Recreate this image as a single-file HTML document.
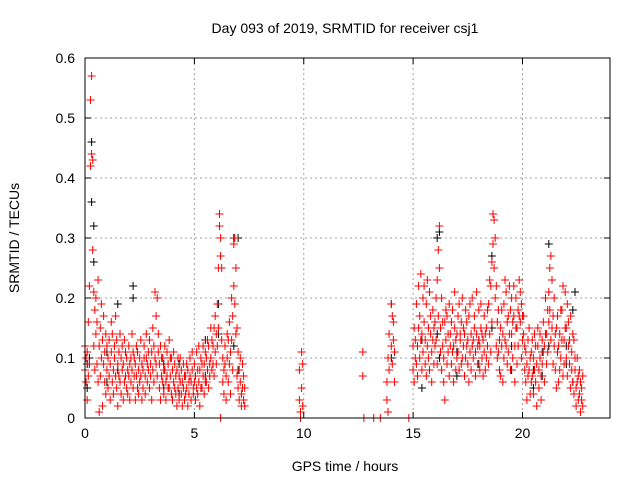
<!DOCTYPE html>
<html><head><meta charset="utf-8"><style>
body{margin:0;background:#fff;}
svg{display:block;font-family:"Liberation Sans",sans-serif;}
</style></head><body>
<svg id="chart" width="640" height="480" viewBox="0 0 640 480">
<rect width="640" height="480" fill="#fff"/>
<g id="grid"></g>
<g id="ticks"></g>
<g id="blackPts"></g>
<g id="redPts"></g>
<rect x="85" y="58" width="525" height="360" fill="none" stroke="#000" stroke-width="1"/>
<text x="345" y="33" text-anchor="middle" font-size="14">Day 093 of 2019, SRMTID for receiver csj1</text>
<text x="345" y="471" text-anchor="middle" font-size="14">GPS time / hours</text>
<text transform="translate(19,238) rotate(-90)" text-anchor="middle" font-size="14">SRMTID / TECUs</text>
</svg>
<script>
const xTicks=[0,5,10,15,20];
const yTicks=[0,0.1,0.2,0.3,0.4,0.5,0.6];
const yTickLabels=["0","0.1","0.2","0.3","0.4","0.5","0.6"];
// samples: [time_hours, value1*100, value2*100]
const redSamples=[
[0,8,12],[0.05,6,10],[0.1,11,3],[0.15,16,7],[0.2,22,9],[0.25,53,42],[0.3,57,44],[0.35,43,28],[0.4,21,12],[0.45,18,8],[0.5,14,20],[0.55,9,16],[0.6,23,6],[0.65,12,1],[0.7,7,15],[0.75,10,19],[0.8,2,13],[0.85,9,17],[0.9,6,11],[0.95,14,4],
[1,8,12],[1.05,10,5],[1.1,13,7],[1.15,3,9],[1.2,11,16],[1.25,6,14],[1.3,8,4],[1.35,12,10],[1.4,17,7],[1.45,5,13],[1.5,9,2],[1.55,11,7],[1.6,6,14],[1.65,10,4],[1.7,8,12],[1.75,3,9],[1.8,13,6],[1.85,7,11],[1.9,10,5],[1.95,4,8],
[2,12,7],[2.05,9,3],[2.1,6,10],[2.15,8,14],[2.2,5,11],[2.25,10,7],[2.3,3,9],[2.35,7,12],[2.4,11,5],[2.45,8,4],[2.5,6,10],[2.55,13,7],[2.6,9,3],[2.65,5,8],[2.7,12,10],[2.75,7,4],[2.8,10,14],[2.85,6,9],[2.9,8,11],[2.95,13,5],
[3,9,7],[3.05,11,3],[3.1,15,8],[3.15,12,6],[3.2,21,10],[3.25,17,9],[3.3,20,7],[3.35,14,11],[3.4,9,5],[3.45,12,3],[3.5,7,10],[3.55,10,6],[3.6,4,8],[3.65,8,12],[3.7,6,3],[3.75,11,7],[3.8,9,5],[3.85,5,13],[3.9,7,10],[3.95,10,4],
[4,3,8],[4.05,6,11],[4.1,9,5],[4.15,4,7],[4.2,8,2],[4.25,5,10],[4.3,7,3],[4.35,10,6],[4.4,4,8],[4.45,6,2],[4.5,9,5],[4.55,3,7],[4.6,7,4],[4.65,5,9],[4.7,8,2],[4.75,4,6],[4.8,10,7],[4.85,6,3],[4.9,8,11],[4.95,5,4],
[5,9,6],[5.05,7,3],[5.1,11,5],[5.15,4,8],[5.2,6,12],[5.25,8,2],[5.3,10,5],[5.35,5,9],[5.4,7,12],[5.45,9,4],[5.5,11,6],[5.55,6,10],[5.6,8,13],[5.65,12,5],[5.7,7,9],[5.75,10,15],[5.8,13,8],[5.85,9,12],[5.9,15,7],[5.95,11,17],
[6,14,9],[6.05,19,12],[6.1,25,15],[6.15,32,34],[6.2,30,27],[6.25,25,13],[6.3,10,6],[6.35,8,4],[6.4,12,9],[6.45,7,3],[6.5,10,14],[6.55,13,6],[6.6,16,9],[6.65,11,4],[6.7,20,13],[6.75,17,8],[6.8,29,22],[6.85,30,19],[6.9,25,14],[6.95,15,7],
[7,11,5],[7.05,8,3],[7.1,6,10],[7.15,4,2],[7.2,9,5],[7.25,3,7],[7.3,5,2],[6.2,0,0],
[9.8,8,3],[9.85,0,1],[9.9,11,5],[9.95,9,2],[12.7,11,7],[12.75,0,0],[13.2,0,0],[13.5,0,0],[13.8,6,3],[13.85,10,1],[13.9,8,14],[14,19,12],[14.05,17,9],[14.1,13,16],[14.15,11,6],[14.8,0,0],
[15,8,12],[15.05,15,6],[15.1,10,13],[15.15,19,9],[15.2,12,7],[15.25,22,15],[15.3,17,10],[15.35,24,13],[15.4,14,8],[15.45,20,11],[15.5,16,22],[15.55,9,13],[15.6,19,7],[15.65,12,23],[15.7,15,10],[15.75,21,8],[15.8,14,17],[15.85,11,6],[15.9,18,13],[15.95,9,15],
[16,16,12],[16.05,13,20],[16.1,23,9],[16.15,28,17],[16.2,32,25],[16.25,15,11],[16.3,20,8],[16.35,12,16],[16.4,10,6],[16.45,16,3],[16.5,13,18],[16.55,17,9],[16.6,11,14],[16.65,19,7],[16.7,14,12],[16.75,9,16],[16.8,18,11],[16.85,12,6],[16.9,15,21],[16.95,8,13],
[17,14,10],[17.05,11,17],[17.1,19,8],[17.15,13,14],[17.2,16,9],[17.25,10,20],[17.3,15,12],[17.35,7,14],[17.4,18,10],[17.45,12,16],[17.5,9,13],[17.55,17,6],[17.6,11,19],[17.65,14,8],[17.7,20,12],[17.75,13,10],[17.8,17,15],[17.85,11,7],[17.9,14,21],[17.95,9,12],
[18,18,13],[18.05,12,8],[18.1,15,19],[18.15,10,14],[18.2,13,7],[18.25,17,11],[18.3,8,14],[18.35,15,10],[18.4,12,18],[18.45,19,9],[18.5,14,23],[18.55,22,11],[18.6,26,16],[18.65,34,29],[18.7,33,25],[18.75,30,20],[18.8,22,12],[18.85,16,10],[18.9,11,18],[18.95,8,13],
[19,15,7],[19.05,12,18],[19.1,6,14],[19.15,19,10],[19.2,13,23],[19.25,21,12],[19.3,16,9],[19.35,11,17],[19.4,22,14],[19.45,18,8],[19.5,14,20],[19.55,10,16],[19.6,17,22],[19.65,12,6],[19.7,20,15],[19.75,15,9],[19.8,18,12],[19.85,23,17],[19.9,16,21],[19.95,19,10],
[20,13,17],[20.05,17,14],[20.1,12,8],[20.15,6,11],[20.2,9,3],[20.25,13,7],[20.3,8,15],[20.35,4,10],[20.4,11,6],[20.45,7,13],[20.5,10,4],[20.55,14,8],[20.6,6,12],[20.65,9,2],[20.7,12,15],[20.75,5,8],[20.8,10,14],[20.85,7,3],[20.9,13,9],[20.95,16,11],
[21,12,6],[21.05,20,14],[21.1,14,9],[21.15,18,11],[21.2,21,16],[21.25,25,18],[21.3,27,13],[21.35,23,15],[21.4,17,9],[21.45,12,20],[21.5,8,14],[21.55,15,5],[21.6,11,17],[21.65,6,12],[21.7,14,8],[21.75,10,18],[21.8,18,13],[21.85,7,22],[21.9,13,9],[21.95,21,15],
[22,15,10],[22.05,19,7],[22.1,12,16],[22.15,9,13],[22.2,17,5],[22.25,11,8],[22.3,6,14],[22.35,13,4],[22.4,8,10],[22.45,5,2],[22.5,10,6],[22.55,7,3],[22.6,4,8],[22.65,6,1],[22.7,3,5],[22.75,2,7]
];
const blackSamples=[
[0.3,46,36],[0.4,32,26],[0.2,10,9],[0.1,9,5],[1,6,11],[1.5,19,8],[2.2,22,20],[3.6,5,9],[4.3,9,4],[5.5,13,7],[6.1,19,14],[6.8,30,12],[7,30,8],
[14,19,10],[15.4,13,5],[16.1,30,14],[16.2,31,10],[17,11,7],[18,9,13],[18.6,27,15],[19.5,12,8],[20.5,8,5],[20.9,7,11],[21.2,29,12],[22,12,9],[22.3,18,6],[22.4,21,10]
];
const X0=85,X1=610,Y0=418,Y1=58,XMAX=24,YMAX=0.6;
const NS='http://www.w3.org/2000/svg';
function xs(t){return X0+(t/XMAX)*(X1-X0);}
function ys(v){return Y0-(v/YMAX)*(Y0-Y1);}
function mk(tag,attrs,parent){const e=document.createElementNS(NS,tag);for(const k in attrs)e.setAttribute(k,attrs[k]);parent.appendChild(e);return e;}
const grid=document.getElementById('grid'),ticks=document.getElementById('ticks');
xTicks.forEach(t=>{
  const x=xs(t);
  if(t>0){const g=mk('line',{x1:x,x2:x,y1:Y1,y2:Y0,stroke:'#a0a0a0','stroke-dasharray':'2,3'},grid);
  
  }
  const tk=mk('path',{d:`M${x},${Y0}v-6M${x},${Y1}v6`,stroke:'#000'},ticks);
  
  
  const lb=mk('text',{x:x,y:Y0+20,'text-anchor':'middle','font-size':'14'},ticks);
  lb.textContent=String(t);
  
  
});
yTicks.forEach((v,i)=>{
  const y=ys(v);
  if(v>0&&v<YMAX){const g=mk('line',{x1:X0,x2:X1,y1:y,y2:y,stroke:'#a0a0a0','stroke-dasharray':'2,3'},grid);
  
  }
  const tk=mk('path',{d:`M${X0},${y}h6M${X1},${y}h-6`,stroke:'#000'},ticks);
  
  
  const lb=mk('text',{x:X0-10,y:y+5,'text-anchor':'end','font-size':'14'},ticks);
  lb.textContent=yTickLabels[i];
  
  
});
function plot(samples,gid,color,name){
  const g=document.getElementById(gid);let d='';
  samples.forEach(s=>{const x=xs(s[0]);for(let k=1;k<s.length;k++){const y=ys(s[k]/100);d+=`M${(x-4).toFixed(1)},${y.toFixed(1)}h8M${x.toFixed(1)},${(y-4).toFixed(1)}v8`;}});
  const p=mk('path',{d:d,stroke:color,'stroke-width':'1',fill:'none'},g);
  
  
}
plot(blackSamples,'blackPts','#000','black-markers');
plot(redSamples,'redPts','#ff0000','red-markers');
</script>
</body></html>
